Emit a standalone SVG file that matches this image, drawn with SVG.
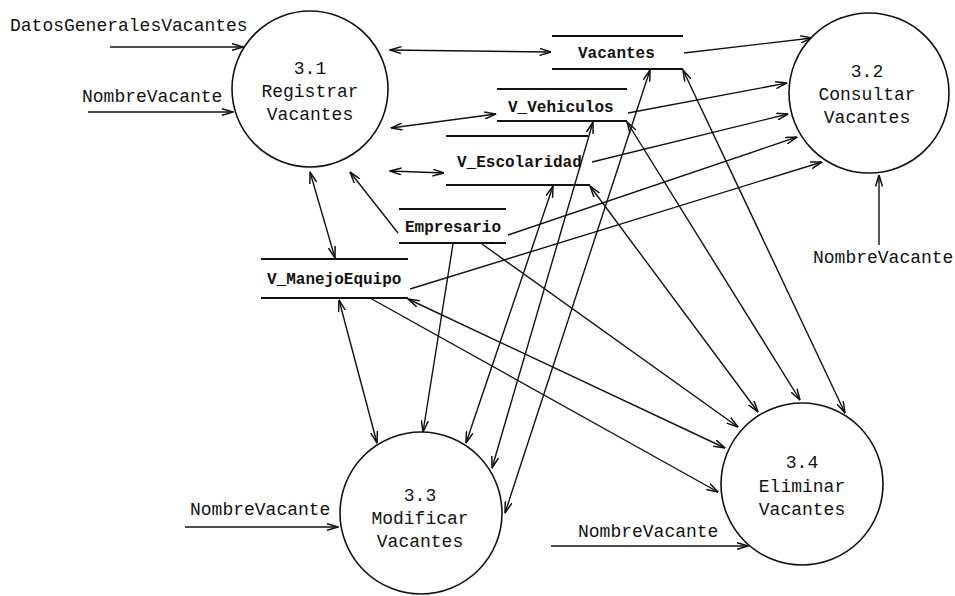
<svg xmlns="http://www.w3.org/2000/svg" width="955" height="596" viewBox="0 0 955 596">
  <style>
    .proc { fill: #ffffff; stroke: #111; stroke-width: 1.6; }
    .store { stroke: #111; stroke-width: 1.8; }
    .flow { stroke: #111; stroke-width: 1.4; fill: none; marker-end: url(#ah); }
    .both { marker-start: url(#ah); }
    .t { font-family: "Liberation Mono", "DejaVu Sans Mono", monospace; font-size: 18px; fill: #111; }
    .c { text-anchor: middle; }
    .s { font-family: "Liberation Mono", "DejaVu Sans Mono", monospace; font-size: 16px; font-weight: bold; fill: #111; }
  </style>
  <defs>
    <marker id="ah" viewBox="0 0 12 8" refX="11.5" refY="4" markerWidth="12" markerHeight="8" markerUnits="userSpaceOnUse" orient="auto-start-reverse">
      <path d="M0,0.5 L11.5,4 L0,7.5" fill="none" stroke="#111" stroke-width="1.5"/>
    </marker>
  </defs>
  <rect width="955" height="596" fill="#ffffff"/>

  <!-- data flows -->
  <g id="connectors">
    <!-- external inputs -->
    <line class="flow" x1="110" y1="47" x2="243" y2="47"/>
    <line class="flow" x1="88" y1="112" x2="233" y2="112"/>
    <line class="flow" x1="879" y1="245" x2="879" y2="175"/>
    <line class="flow" x1="185" y1="527" x2="338" y2="527"/>
    <line class="flow" x1="551" y1="546" x2="748" y2="546"/>

    <!-- 3.1 Registrar -->
    <line class="flow both" x1="390" y1="50" x2="551" y2="52"/>
    <line class="flow both" x1="391" y1="128" x2="496" y2="114"/>
    <line class="flow both" x1="390" y1="171" x2="444" y2="173"/>
    <line class="flow" x1="398" y1="233" x2="350" y2="172"/>
    <line class="flow both" x1="310" y1="172" x2="335" y2="258"/>

    <!-- 3.2 Consultar -->
    <line class="flow" x1="684" y1="53" x2="812" y2="38"/>
    <line class="flow" x1="628" y1="113" x2="787" y2="83"/>
    <line class="flow" x1="592" y1="162" x2="788" y2="114"/>
    <line class="flow" x1="508" y1="235" x2="797" y2="137"/>
    <line class="flow" x1="410" y1="289" x2="822" y2="162"/>

    <!-- 3.3 Modificar -->
    <line class="flow both" x1="339" y1="300" x2="377" y2="443"/>
    <line class="flow" x1="453" y1="244" x2="423" y2="432"/>
    <line class="flow both" x1="553" y1="186" x2="466" y2="443"/>
    <line class="flow both" x1="593" y1="122" x2="492" y2="468"/>
    <line class="flow both" x1="650" y1="70" x2="505" y2="513"/>

    <!-- 3.4 Eliminar -->
    <line class="flow both" x1="683" y1="70" x2="845" y2="413"/>
    <line class="flow both" x1="627" y1="122" x2="800" y2="400"/>
    <line class="flow both" x1="590" y1="186" x2="758" y2="412"/>
    <line class="flow" x1="482" y1="244" x2="738" y2="427"/>
    <line class="flow both" x1="408" y1="299" x2="725" y2="448"/>
    <line class="flow" x1="370" y1="298" x2="718" y2="492"/>
  </g>

  <!-- external labels -->
  <g id="labels">
    <text class="t" x="10" y="31">DatosGeneralesVacantes</text>
    <text class="t" x="82" y="102">NombreVacante</text>
    <text class="t" x="813" y="263">NombreVacante</text>
    <text class="t" x="190" y="515">NombreVacante</text>
    <text class="t" x="578" y="537">NombreVacante</text>
  </g>

  <!-- processes -->
  <g id="p31">
    <circle class="proc" cx="310" cy="89" r="78"/>
    <text class="t c" x="310" y="74">3.1</text>
    <text class="t c" x="310" y="97">Registrar</text>
    <text class="t c" x="310" y="120">Vacantes</text>
  </g>
  <g id="p32">
    <circle class="proc" cx="869" cy="93" r="80"/>
    <text class="t c" x="867" y="77">3.2</text>
    <text class="t c" x="867" y="100">Consultar</text>
    <text class="t c" x="867" y="123">Vacantes</text>
  </g>
  <g id="p33">
    <circle class="proc" cx="421" cy="513" r="81"/>
    <text class="t c" x="420" y="501">3.3</text>
    <text class="t c" x="420" y="524">Modificar</text>
    <text class="t c" x="420" y="547">Vacantes</text>
  </g>
  <g id="p34">
    <circle class="proc" cx="802" cy="484" r="81"/>
    <text class="t c" x="802" y="468">3.4</text>
    <text class="t c" x="802" y="492">Eliminar</text>
    <text class="t c" x="802" y="515">Vacantes</text>
  </g>

  <!-- data stores -->
  <g id="ds-vacantes">
    <line class="store" x1="552" y1="36" x2="683" y2="36"/>
    <line class="store" x1="552" y1="69" x2="683" y2="69"/>
    <text class="s" x="578" y="58">Vacantes</text>
  </g>
  <g id="ds-vehiculos">
    <line class="store" x1="497" y1="89" x2="627" y2="89"/>
    <line class="store" x1="497" y1="121" x2="627" y2="121"/>
    <text class="s" x="508" y="112">V_Vehiculos</text>
  </g>
  <g id="ds-escolaridad">
    <line class="store" x1="446" y1="136" x2="588" y2="136"/>
    <line class="store" x1="446" y1="185" x2="590" y2="185"/>
    <text class="s" x="457" y="167">V_Escolaridad</text>
  </g>
  <g id="ds-empresario">
    <line class="store" x1="399" y1="209" x2="506" y2="209"/>
    <line class="store" x1="399" y1="243" x2="506" y2="243"/>
    <text class="s" x="405" y="232">Empresario</text>
  </g>
  <g id="ds-manejoequipo">
    <line class="store" x1="261" y1="259" x2="408" y2="259"/>
    <line class="store" x1="261" y1="298" x2="408" y2="298"/>
    <text class="s" x="267" y="284">V_ManejoEquipo</text>
  </g>
</svg>
